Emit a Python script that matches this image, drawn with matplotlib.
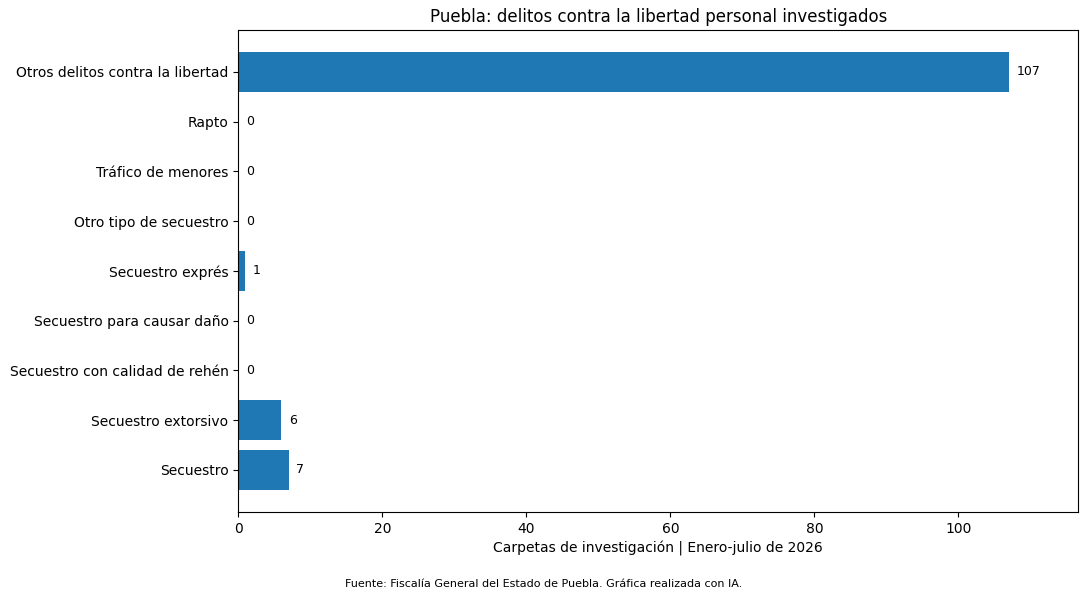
import matplotlib
matplotlib.use("Agg")
import matplotlib.pyplot as plt

# Categories listed bottom to top
categorias = [
    "Secuestro",
    "Secuestro extorsivo",
    "Secuestro con calidad de rehén",
    "Secuestro para causar daño",
    "Secuestro exprés",
    "Otro tipo de secuestro",
    "Tráfico de menores",
    "Rapto",
    "Otros delitos contra la libertad",
]
valores = [7, 6, 0, 0, 1, 0, 0, 0, 107]

fig, ax = plt.subplots(figsize=(10.88, 6), dpi=100)
fig.subplots_adjust(left=0.219, right=0.991, top=0.95, bottom=0.147)

bars = ax.barh(categorias, valores, color="#1f77b4")
for b, v in zip(bars, valores):
    ax.annotate(str(v), (b.get_width(), b.get_y() + b.get_height() / 2),
                xytext=(5.5, 0), textcoords="offset points",
                va="center", ha="left", fontsize=9)

ax.set_xlim(0, max(valores) * 1.09)
ax.set_title("Puebla: delitos contra la libertad personal investigados", fontsize=12)
ax.set_xlabel("Carpetas de investigación | Enero-julio de 2026")

fig.text(0.5, 0.022, "Fuente: Fiscalía General del Estado de Puebla. Gráfica realizada con IA.",
         ha="center", fontsize=8)

fig.savefig("out.png", dpi=100)
